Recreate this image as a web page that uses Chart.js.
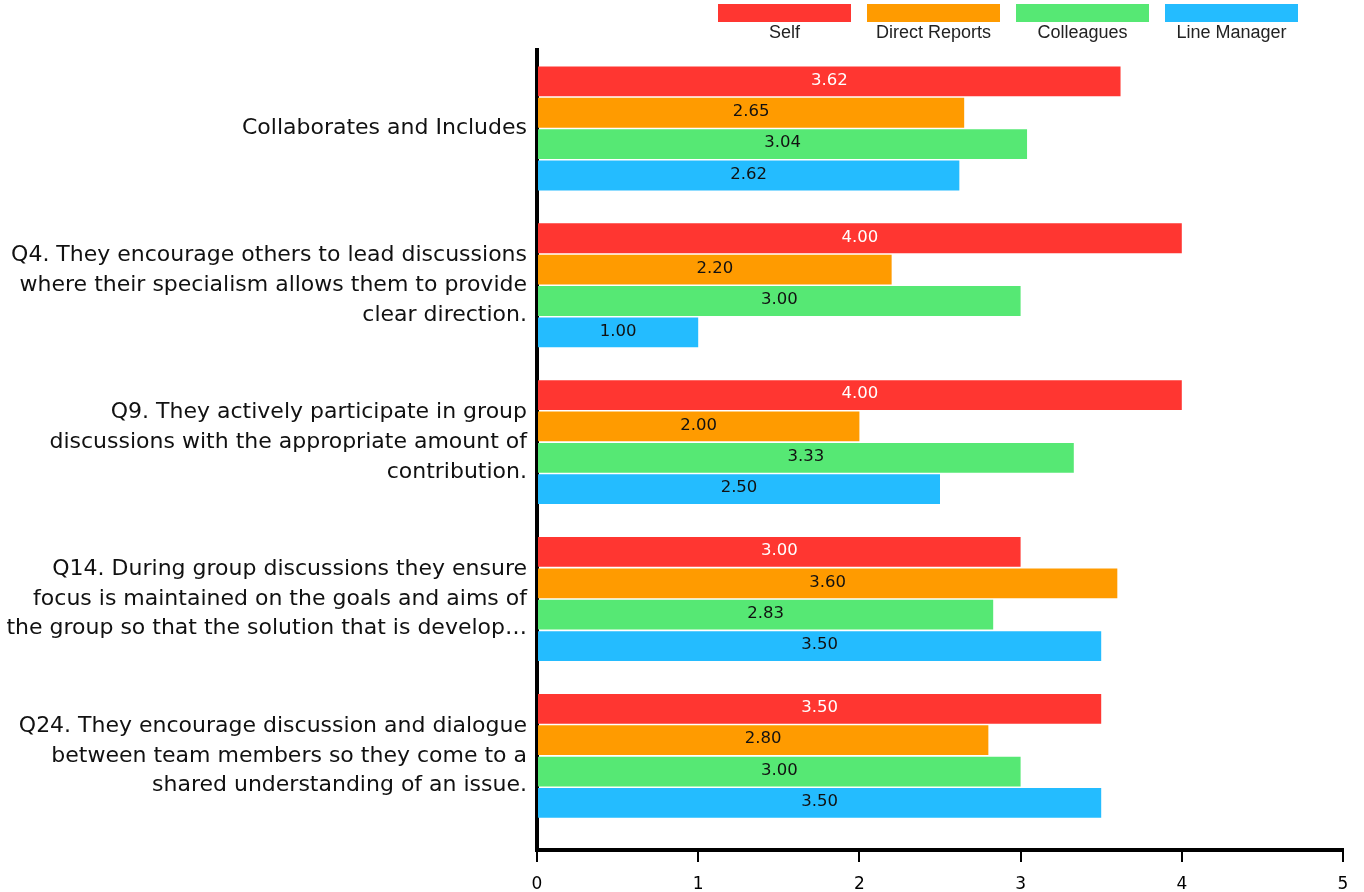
<!DOCTYPE html>
<html>
<head>
<meta charset="utf-8">
<script src="https://cdn.jsdelivr.net/npm/chart.js@4.4.0/dist/chart.umd.min.js"></script>
<style>
  body { margin: 0; background: #fff; }
  #wrap { position: relative; width: 1364px; height: 892px; }
  #legend { position: absolute; left: 718px; top: 4px; display: flex; gap: 16px; font-family: "Liberation Sans", Arial, sans-serif; font-size: 18px; color: #222; }
  .item { width: 133px; text-align: center; }
  .box { height: 18px; }
  .txt { line-height: 20px; margin-top: 0px; }
</style>
</head>
<body>
<div id="wrap">
  <canvas id="myChart" width="1364" height="892"></canvas>
  <div id="legend"></div>
</div>
<script>
var categories = [
    ["Collaborates and Includes"],
    ["Q4. They encourage others to lead discussions", "where their specialism allows them to provide", "clear direction."],
    ["Q9. They actively participate in group", "discussions with the appropriate amount of", "contribution."],
    ["Q14. During group discussions they ensure", "focus is maintained on the goals and aims of", "the group so that the solution that is develop\u2026"],
    ["Q24. They encourage discussion and dialogue", "between team members so they come to a", "shared understanding of an issue."]
];
var seriesNames = ['Self', 'Direct Reports', 'Colleagues', 'Line Manager'];
var selfScores = [3.62, 4.00, 4.00, 3.00, 3.50];
var directScores = [2.65, 2.20, 2.00, 3.60, 2.80];
var colleagueScores = [3.04, 3.00, 3.33, 2.83, 3.00];
var managerScores = [2.62, 1.00, 2.50, 3.50, 3.50];
var xTicks = [0, 1, 2, 3, 4, 5];

var colours = ['#ff3631', '#ff9b00', '#56e874', '#24bcff'];
var labelColours = ['#ffffff', '#111111', '#111111', '#111111'];
var allScores = [selfScores, directScores, colleagueScores, managerScores];
var labelFont = '"DejaVu Sans", "Noto Sans", sans-serif';

function toPoints(values) {
    return values.map(function(v, i) { return {x: v, y: i}; });
}

// value labels in the middle of each bar
const barValues = {
    id: 'barValues',
    afterDatasetsDraw(chart) {
        const ctx = chart.ctx;
        ctx.save();
        ctx.font = '16.5px ' + labelFont;
        ctx.textAlign = 'center';
        ctx.textBaseline = 'middle';
        chart.data.datasets.forEach(function(ds, di) {
            chart.getDatasetMeta(di).data.forEach(function(bar, i) {
                ctx.fillStyle = labelColours[di];
                ctx.fillText(ds.data[i].x.toFixed(2), (bar.x + bar.base) / 2, bar.y - 1);
            });
        });
        ctx.restore();
    }
};

const ctx = document.getElementById('myChart').getContext('2d');
const myChart = new Chart(ctx, {
    type: 'bar',
    data: {
        datasets: seriesNames.map(function(name, i) {
            return {
                label: name,
                data: toPoints(allScores[i]),
                backgroundColor: colours[i],
                borderWidth: 0,
                categoryPercentage: 0.8,
                barPercentage: 0.95
            };
        })
    },
    options: {
        indexAxis: 'y',
        responsive: false,
        animation: false,
        layout: { padding: { top: 50, right: 21, left: 0, bottom: 0 } },
        plugins: {
            legend: { display: false },
            tooltip: { enabled: false }
        },
        scales: {
            x: {
                type: 'linear',
                min: 0,
                max: 5,
                afterBuildTicks: function(scale) {
                    scale.ticks = xTicks.map(function(v) { return {value: v}; });
                },
                afterFit: function(scale) { scale.height = 42; },
                border: { display: true, color: '#000', width: 4 },
                grid: { display: true, drawOnChartArea: false, drawTicks: true, tickLength: 12, color: '#000', lineWidth: 2 },
                ticks: { color: '#000', padding: 12, font: { family: labelFont, size: 17 } }
            },
            y: {
                type: 'linear',
                reverse: true,
                offset: false,
                min: -0.5,
                max: 4.6,
                afterBuildTicks: function(scale) {
                    scale.ticks = categories.map(function(c, i) { return {value: i}; });
                },
                afterFit: function(scale) {
                    scale.width = 537;
                    scale.paddingTop = 0;
                    scale.paddingBottom = 0;
                },
                border: { display: true, color: '#000', width: 4 },
                grid: { display: true, offset: false, drawOnChartArea: false, drawTicks: false },
                ticks: {
                    color: '#111',
                    padding: 10,
                    font: { family: labelFont, size: 22, lineHeight: 1.35 },
                    callback: function(v) { return categories[v]; }
                }
            }
        }
    },
    plugins: [barValues]
});

// legend with the box above the name
var legend = document.getElementById('legend');
seriesNames.forEach(function(name, i) {
    var item = document.createElement('div');
    item.className = 'item';
    item.innerHTML = '<div class="box" style="background:' + colours[i] + '"></div><div class="txt">' + name + '</div>';
    legend.appendChild(item);
});
</script>
</body>
</html>
